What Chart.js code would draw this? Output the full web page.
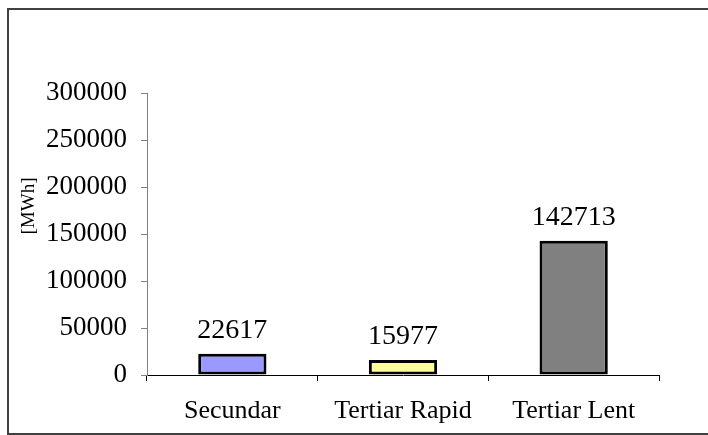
<!DOCTYPE html>
<html>
<head>
<meta charset="utf-8">
<script src="https://cdn.jsdelivr.net/npm/chart.js@4"></script>
<style>
  body { margin: 0; background: #fff; }
  #wrap { position: relative; width: 708px; height: 435px; overflow: hidden; }
  #frame { position: absolute; left: 7px; top: 8px; width: 800px; height: 423px; border: 2px solid #404040; }
  canvas { position: absolute; left: 0; top: 0; }
</style>
</head>
<body>
<div id="wrap">
  <div id="frame"></div>
  <canvas id="energyChart" width="708" height="435"></canvas>
</div>
<script>
// categories and values
const categories = ["Secundar", "Tertiar Rapid", "Tertiar Lent"];
const energyMWh = [22617, 15977, 142713];
const barColors = ["#9999FF", "#FFFF99", "#808080"];
const yTicks = [0, 50000, 100000, 150000, 200000, 250000, 300000];
const yTitle = "[MWh]";

const serif = '"Liberation Serif", "Times New Roman", serif';

// value labels above the bars + rotated axis title
const labelPlugin = {
    id: 'labels',
    afterDatasetsDraw(chart) {
        const ctx = chart.ctx;
        const meta = chart.getDatasetMeta(0);
        ctx.save();
        ctx.fillStyle = '#000';
        ctx.font = '28px ' + serif;
        ctx.textAlign = 'center';
        ctx.textBaseline = 'alphabetic';
        meta.data.forEach((bar, i) => {
            ctx.fillText(String(energyMWh[i]), bar.x, bar.y - 16);
        });
        // y axis title
        ctx.translate(29, 206);
        ctx.rotate(-Math.PI / 2);
        ctx.font = '19px ' + serif;
        ctx.textBaseline = 'middle';
        ctx.fillText(yTitle, 0, 0);
        ctx.restore();
    }
};

const ctx = document.getElementById('energyChart').getContext('2d');
const energyChart = new Chart(ctx, {
    type: 'bar',
    data: {
        labels: categories,
        datasets: [{
            data: energyMWh,
            backgroundColor: barColors,
            borderColor: '#000',
            borderWidth: 3,
            borderSkipped: false,
            barPercentage: 0.4,
            categoryPercentage: 1.0,
        }],
    },
    options: {
        responsive: false,
        animation: false,
        layout: { padding: { top: 93, right: 49, left: 0, bottom: 0 } },
        plugins: {
            legend: { display: false },
            tooltip: { enabled: false },
        },
        scales: {
            x: {
                afterFit: s => { s.height = 60; },
                grid: {
                    drawOnChartArea: false,
                    tickLength: 6,
                    color: '#000',
                },
                border: { color: '#000', width: 1 },
                ticks: {
                    color: '#000',
                    font: { family: serif, size: 26 },
                    padding: 15,
                },
            },
            y: {
                min: 0,
                max: 300000,
                afterFit: s => { s.width = 147; },
                afterBuildTicks: s => { s.ticks = yTicks.map(v => ({ value: v })); },
                grid: {
                    drawOnChartArea: false,
                    tickLength: 6,
                    color: '#808080',
                },
                border: { color: '#808080', width: 1 },
                ticks: {
                    color: '#000',
                    font: { family: serif, size: 27 },
                    padding: 14,
                    callback: v => String(v),
                },
            },
        },
    },
    plugins: [labelPlugin],
});
</script>
</body>
</html>
